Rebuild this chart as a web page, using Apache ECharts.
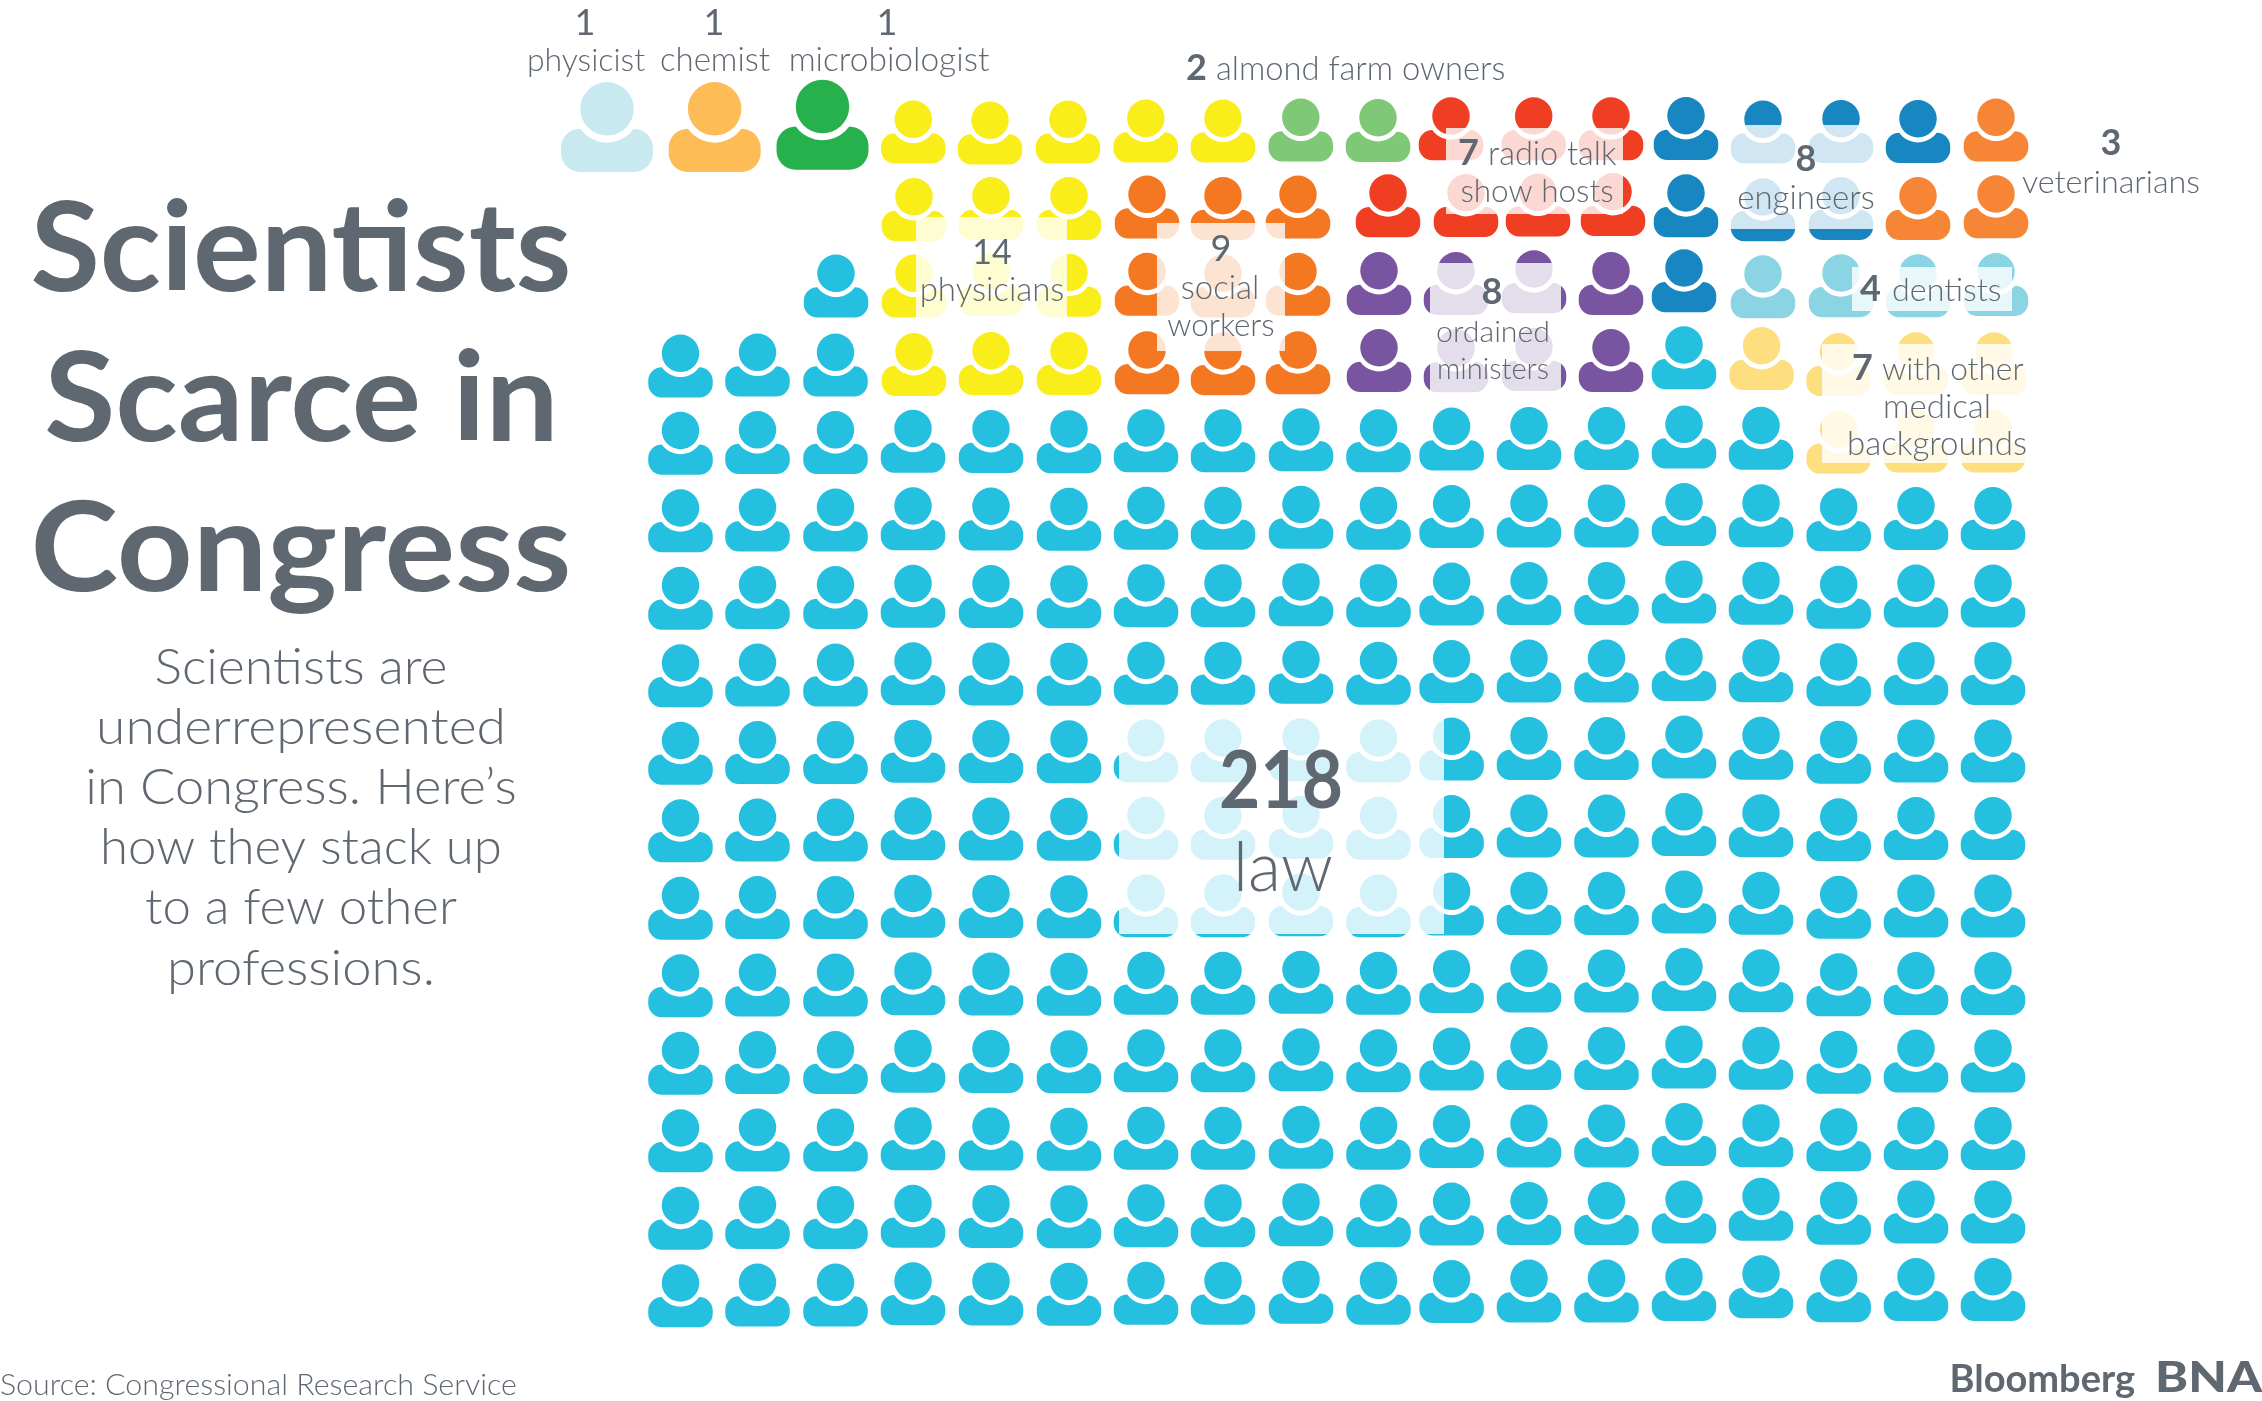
<!DOCTYPE html>
<html>
<head>
<meta charset="utf-8">
<style>html,body{margin:0;background:#fff}#chart{width:2262px;height:1401px}</style>
<script src="https://cdn.jsdelivr.net/npm/echarts@6/dist/echarts.min.js"></script>
</head>
<body>
<div id="chart"></div>
<script>
// Members of Congress by profession, one icon per member
const codes = ['L', 'Y', 'S', 'A', 'R', 'E', 'V', 'P', 'D', 'M'];
const professions = ['law', 'physicians', 'social workers', 'almond farm owners', 'radio talk show hosts', 'engineers', 'veterinarians', 'ordained ministers', 'dentists', 'with other medical backgrounds'];
const counts = [218, 14, 9, 2, 7, 8, 3, 8, 4, 7];
const colors = ['#25BFDF', '#F9ED1A', '#F47721', '#7FC875', '#F03E23', '#1887C1', '#F68536', '#7954A1', '#8AD4E3', '#FEDF80'];

const scientists = ['physicist', 'chemist', 'microbiologist'];
const scientistCounts = [1, 1, 1];
const scientistColors = ['#C8E9EF', '#FDBC55', '#26B14C'];

// who sits where, top row first
const seatRows = [
  '...YYYYYAARRREEEEV',
  '...YYYSSSRRRREEEVV',
  '..LYYYSSSPPPPEDDDD',
  'LLLYYYSSSPPPPLMMMM',
  'LLLLLLLLLLLLLLLMMM',
  'LLLLLLLLLLLLLLLLLL',
  'LLLLLLLLLLLLLLLLLL',
  'LLLLLLLLLLLLLLLLLL',
  'LLLLLLLLLLLLLLLLLL',
  'LLLLLLLLLLLLLLLLLL',
  'LLLLLLLLLLLLLLLLLL',
  'LLLLLLLLLLLLLLLLLL',
  'LLLLLLLLLLLLLLLLLL',
  'LLLLLLLLLLLLLLLLLL',
  'LLLLLLLLLLLLLLLLLL',
  'LLLLLLLLLLLLLLLLLL'
];

// grid layout, px
const W = 2262, H = 1401;
const pitchX = 77.6, pitchY = 77.5;
const originX = 680.5, originY = 1295.8; // centre of the icon at col 0, row 0

// the original is hand placed, so icons sit a few px off the regular grid
const colNudgeX = [0, -.6, -.2, -.3, .1, .5, -.1, -.7, -.3, -.4, -4.9, -5.1, -5.2, -5.3, -5.9, -5.8, -6.1, -6.7];
const colNudgeY = [0, -.7, -.7, -2, -1.8, -1.5, -2.5, -2.5, -3.5, -2.5, -4.2, -4.7, -4.7, -6.2, -5, -1, -2.3, -2.3];
const rowNudgeX = {
  12: [0, -.6, -.2, .7, .1, .5, .9, -.7, -3.3, .1, -.5, -.1, -.7, -5.3, -5.3, -6, -6.1, -5.7],
  13: [0, 0, .3, .7, .1, .5, .9, -.7, -3.3, .1, -.5, -.1, -.7, -5.3, -3.9, -3.5, -4.1, -3.7],
  14: [0, 0, 0, .7, .1, .5, .9, -.7, -3.3, 9.1, 9.5, 3.9, 1.3, -3.3, -3.9, -3.5, -4.1, -3.7],
  15: [0, 0, 0, 0, -.9, -.5, -.3, -.7, -.5, -.9, -5.5, -.4, -.7, -3.3, -3.9, -3.5, -4.1, -3.7]
};
const rowNudgeY = {
  12: [.3, -.7, -.7, -1.3, -2.3, -2.3, -3, -2, -3, -5.3, -5, -6.3, -5.3, -8, -7.3, -1.3, -2, -2],
  13: [0, 0, -2.2, -2.2, -4, -3, -4, -2.2, -4, -4.8, -4.8, -6.5, -4.8, -7.5, -1.5, -2.5, -2.5, -3.8],
  14: [0, 0, 0, -1.3, -2.3, -2.3, -3.7, -2.3, -3.7, -5, -5.3, -5.7, -6.3, -5, -1, -2.3, -2.3, -4],
  15: [0, 0, 0, -1.2, -.2, -1.2, -2.2, -2.2, -3.2, -2.8, -4.5, -4.5, -4.5, -4.8, -1.2, -1.8, -1.8, -3.2]
};
const bigCols = [-0.947, 0.44, 1.83];
const bigRows = [15.08, 15.08, 15.11];

// person icon: head plus shoulders with a bite taken out around the head
const person = 'path://M51 18.67A18.75 18.75 0 1 1 13.5 18.67A18.75 18.75 0 1 1 51 18.67Z' +
  'M13.5 32.67C6 32.67 0 38.67 0 46L0 49.5C0 57 6 63 13.5 63L51 63C58.5 63 64.5 57 64.5 49.5L64.5 46C64.5 38.67 58.5 32.67 51 32.67' +
  'A23 23 0 0 1 13.5 32.67Z';

function seatsOf(code) {
  const out = [];
  seatRows.forEach((line, i) => {
    const row = seatRows.length - 1 - i;
    [...line].forEach((c, col) => {
      if (c !== code) return;
      const dx = rowNudgeX[row] ? rowNudgeX[row][col] : colNudgeX[col];
      let dy = rowNudgeY[row] ? rowNudgeY[row][col] : colNudgeY[col];
      if (row < 2 && col >= 14) dy -= 4;
      out.push([col + dx / pitchX, row - dy / pitchY]);
    });
  });
  return out;
}

const series = codes.map((code, i) => ({
  type: 'scatter',
  name: professions[i],
  symbol: person,
  symbolSize: [64.5, 63],
  silent: true,
  itemStyle: { color: colors[i], opacity: 1 },
  data: seatsOf(code)
}));
scientists.forEach((name, i) => {
  series.push({
    type: 'scatter',
    name: name,
    symbol: person,
    symbolSize: [92, 90],
    silent: true,
    itemStyle: { color: scientistColors[i], opacity: 1 },
    data: [[bigCols[i], bigRows[i]]]
  });
});

// white veils under the labels: x, y, w, h
const veils = [
  [916, 217, 151, 103],
  [1157, 223, 128, 128],
  [1446, 128, 177, 86],
  [1725, 125, 155, 104],
  [1430, 263, 131, 132],
  [1852, 267, 160, 44],
  [1822, 344, 208, 119],
  [1119, 710, 325, 224]
];

const inkColor = '#5F6770';
const fontFamily = 'Lato, "Noto Sans", sans-serif';

// text, x, baseline, size, weight, align, horizontal stretch
const texts = [
  ['Scientists', 301, 293, 124, 700, 'center', 1.022],
  ['Scarce in', 301.5, 443, 124, 700, 'center', 1.047],
  ['Congress', 301, 593, 124, 700, 'center', 1.067],
  ['Scientists are', 301, 685, 49, 300, 'center', 1.055],
  ['underrepresented', 301, 745, 49, 300, 'center', 1.09],
  ['in Congress. Here\u2019s', 301, 805, 49, 300, 'center', 1.07],
  ['how they stack up', 301, 865, 49, 300, 'center', 1.04],
  ['to a few other', 301, 925, 49, 300, 'center', 1.04],
  ['professions.', 301, 986, 49, 300, 'center', 1.07],

  [String(scientistCounts[0]), 585, 36, 36, 400, 'center'],
  [scientists[0], 586, 72, 32, 300, 'center'],
  [String(scientistCounts[1]), 714, 36, 36, 400, 'center'],
  [scientists[1], 715, 72, 33, 300, 'center'],
  [String(scientistCounts[2]), 887, 36, 36, 400, 'center'],
  [scientists[2], 889, 72, 33.5, 300, 'center'],

  [String(counts[3]), 1186, 81, 36, 700, 'left'],
  ['almond farm owners', 1216, 81, 32.7, 300, 'left'],
  [String(counts[1]), 992, 265, 34, 400, 'center'],
  ['physicians', 992, 302, 33, 300, 'center'],
  [String(counts[2]), 1221, 262, 36, 400, 'center'],
  ['social', 1220, 300, 33, 300, 'center'],
  ['workers', 1221, 337, 31.5, 300, 'center'],
  [String(counts[4]), 1458, 166, 36, 700, 'left'],
  ['radio talk', 1488, 166, 32.5, 300, 'left'],
  ['show hosts', 1537, 203, 31.5, 300, 'center'],
  [String(counts[5]), 1806, 172, 36, 700, 'center'],
  ['engineers', 1806, 210, 33, 300, 'center'],
  [String(counts[6]), 2111, 156, 36, 700, 'center'],
  ['veterinarians', 2111, 194, 32.3, 300, 'center'],
  [String(counts[7]), 1492, 305, 36, 700, 'center'],
  ['ordained', 1493, 343, 30.3, 300, 'center'],
  ['ministers', 1493, 380, 29, 300, 'center'],
  [String(counts[8]), 1860, 302, 36, 700, 'left'],
  ['dentists', 1892, 302, 32.3, 300, 'left'],
  [String(counts[9]), 1852, 381, 36, 700, 'left'],
  ['with other', 1882, 381, 31.7, 300, 'left'],
  ['medical', 1937, 419, 33, 300, 'center'],
  ['backgrounds', 1937, 456, 33, 300, 'center'],

  [String(counts[0]), 1281, 809, 80, 700, 'center', 0.89],
  [professions[0], 1283, 892, 68, 300, 'center'],

  ['Source: Congressional Research Service', 0, 1396, 30.4, 300, 'left'],
  ['BNA', 2262, 1393, 42, 900, 'right', 1.19],
  ['Bloomberg', 2135, 1393, 38, 700, 'right']
];

const graphic = veils.map(v => ({
  type: 'rect',
  silent: true,
  z: 10,
  shape: { x: v[0], y: v[1], width: v[2], height: v[3] },
  style: { fill: 'rgba(255,255,255,0.8)' }
})).concat(texts.map(t => ({
  type: 'text',
  silent: true,
  z: 11,
  x: t[1],
  y: t[2] - t[3] * 0.34, // middle anchor, pulled up to the baseline
  scaleX: t[6] || 1,
  style: {
    text: t[0],
    fill: inkColor,
    font: t[4] + ' ' + t[3] + 'px ' + fontFamily,
    textAlign: t[5],
    textVerticalAlign: 'middle'
  }
})));

const chart = echarts.init(document.getElementById('chart'), null, { renderer: 'canvas' });
chart.setOption({
  animation: false,
  backgroundColor: '#fff',
  grid: { left: 0, right: 0, top: 0, bottom: 0 },
  xAxis: { type: 'value', show: false, min: -originX / pitchX, max: (W - originX) / pitchX },
  yAxis: { type: 'value', show: false, min: (originY - H) / pitchY, max: originY / pitchY },
  graphic: graphic,
  series: series
});
</script>
</body>
</html>
